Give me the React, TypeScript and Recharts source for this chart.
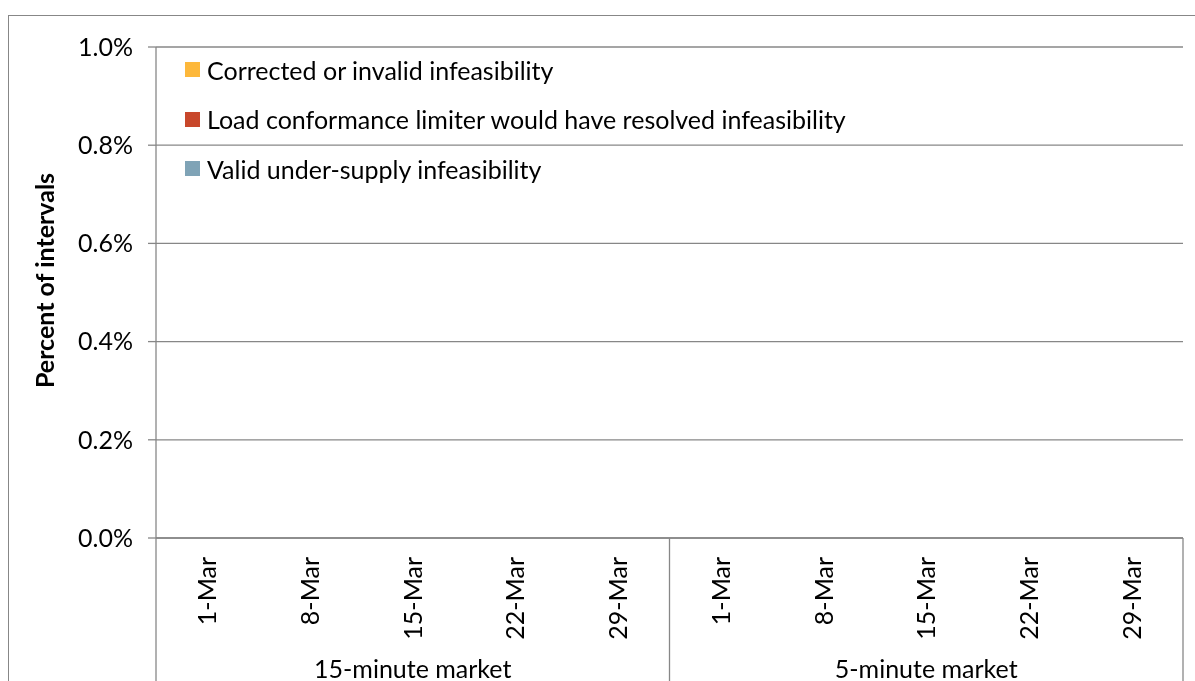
import React from "react";
import { BarChart, Bar, XAxis, YAxis, CartesianGrid, Legend } from "recharts";

// one bar per week, two market groups
const markets = ["15-minute market", "5-minute market"];
const weeks = ["1-Mar", "8-Mar", "15-Mar", "22-Mar", "29-Mar"];

// share of intervals (fraction), 15-minute weeks then 5-minute weeks
const validUnderSupply = [0, 0, 0, 0, 0, 0, 0, 0, 0, 0];
const loadConformance = [0, 0, 0, 0, 0, 0, 0, 0, 0, 0];
const correctedInvalid = [0, 0, 0, 0, 0, 0, 0, 0, 0, 0];

const yTicks = [0, 0.002, 0.004, 0.006, 0.008, 0.01];

const data = markets.flatMap((market, mi) =>
  weeks.map((week, wi) => {
    const i = mi * weeks.length + wi;
    return {
      market,
      week,
      valid: validUnderSupply[i],
      load: loadConformance[i],
      corrected: correctedInvalid[i],
    };
  })
);

const FONT = "Lato, 'Open Sans', sans-serif";
const FS = 25;
const GRID = "#878787";
const W = 1187;
const H = 703;
const MARGIN = { top: 32, right: 12, left: 0, bottom: 0 };
const Y_AXIS_W = 148;
const WEEK_AXIS_H = 110;
const MARKET_AXIS_H = 70;
const PLOT_W = W - MARGIN.left - MARGIN.right - Y_AXIS_W;

const WeekTick = (props: any) => {
  const { x, y, payload } = props;
  return (
    <text
      x={x}
      y={y}
      dy="0.36em"
      transform={`rotate(-90, ${x}, ${y})`}
      textAnchor="end"
      fill="#000"
      fontSize={FS}
      fontFamily={FONT}
    >
      {payload.value}
    </text>
  );
};

const MarketTick = (props: any) => {
  const { x, y, payload, index } = props;
  const half = PLOT_W / markets.length / 2;
  const top = y - WEEK_AXIS_H;
  const bottom = y + MARKET_AXIS_H + 40;
  return (
    <g>
      {index === 0 && <line x1={x - half} x2={x - half} y1={top} y2={bottom} stroke={GRID} strokeWidth={1.3} />}
      <line x1={x + half} x2={x + half} y1={top} y2={bottom} stroke={GRID} strokeWidth={1.3} />
      <text x={x} y={y + 21} dy="0.36em" textAnchor="middle" fill="#000" fontSize={FS} fontFamily={FONT}>
        {payload.value}
      </text>
    </g>
  );
};

const LegendBox = (props: any) => {
  const items = props.payload || [];
  return (
    <div style={{ fontFamily: FONT, fontSize: FS, color: "#000" }}>
      {items.map((item: any) => (
        <div key={item.value} style={{ display: "flex", alignItems: "center", height: 49.5, whiteSpace: "nowrap" }}>
          <span style={{ width: 15, height: 15, background: item.color, marginRight: 7, display: "inline-block" }} />
          {item.value}
        </div>
      ))}
    </div>
  );
};

const AxisTitle = (props: any) => {
  const { viewBox } = props;
  const cx = viewBox.x + 37;
  const cy = viewBox.y + viewBox.height / 2 - 12;
  return (
    <text
      x={cx}
      y={cy}
      dy="0.36em"
      transform={`rotate(-90, ${cx}, ${cy})`}
      textAnchor="middle"
      fontWeight="bold"
      fill="#000"
      fontSize={FS}
      fontFamily={FONT}
    >
      Percent of intervals
    </text>
  );
};

export default function App() {
  return (
    <div style={{ position: "fixed", left: 8, top: 15, width: W, height: H }}>
      <div
        style={{
          position: "absolute",
          left: 0,
          top: 0,
          width: 1300,
          height: 900,
          borderLeft: `1px solid ${GRID}`,
          borderTop: `1px solid ${GRID}`,
        }}
      />
      <BarChart width={W} height={H} data={data} margin={MARGIN} barCategoryGap="50%" style={{ position: "absolute", left: 0, top: 0 }}>
        <CartesianGrid vertical={false} stroke={GRID} strokeWidth={1.3} />
        <XAxis
          dataKey="week"
          interval={0}
          height={WEEK_AXIS_H}
          tick={<WeekTick />}
          tickLine={false}
          tickSize={0}
          tickMargin={19}
          axisLine={{ stroke: GRID, strokeWidth: 1.3 }}
        />
        <XAxis
          xAxisId="market"
          dataKey="market"
          allowDuplicatedCategory={false}
          height={MARKET_AXIS_H}
          tick={<MarketTick />}
          tickLine={false}
          tickSize={0}
          tickMargin={0}
          axisLine={false}
        />
        <YAxis
          width={Y_AXIS_W}
          domain={[0, 0.01]}
          ticks={yTicks}
          tickFormatter={(v: number) => `${(v * 100).toFixed(1)}%`}
          tick={{ fill: "#000", fontSize: FS, fontFamily: FONT }}
          tickSize={8}
          tickMargin={15}
          tickLine={{ stroke: GRID, strokeWidth: 1.3 }}
          axisLine={{ stroke: GRID, strokeWidth: 1.3 }}
          label={<AxisTitle />}
        />
        <YAxis
          yAxisId="right"
          orientation="right"
          width={0}
          domain={[0, 0.01]}
          tick={false}
          tickLine={false}
          axisLine={{ stroke: GRID, strokeWidth: 1.3 }}
        />
        <Legend
          layout="horizontal"
          verticalAlign="middle"
          align="center"
          wrapperStyle={{ left: 177, top: 30, width: "auto" }}
          content={<LegendBox />}
        />
        <Bar dataKey="corrected" name="Corrected or invalid infeasibility" stackId="a" fill="#FDB83B" isAnimationActive={false} />
        <Bar dataKey="load" name="Load conformance limiter would have resolved infeasibility" stackId="a" fill="#C8472B" isAnimationActive={false} />
        <Bar dataKey="valid" name="Valid under-supply infeasibility" stackId="a" fill="#7FA3B6" isAnimationActive={false} />
      </BarChart>
    </div>
  );
}
